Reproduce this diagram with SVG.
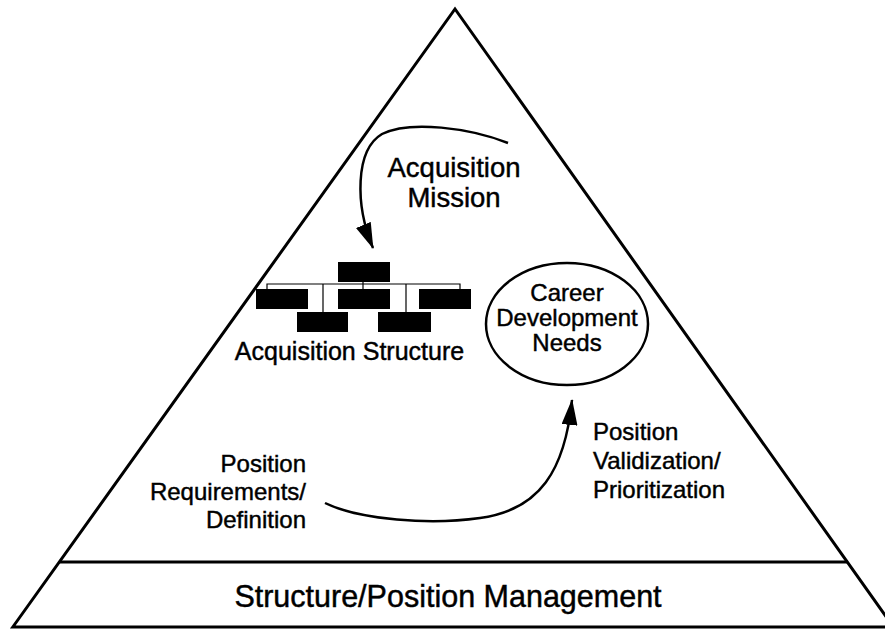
<svg xmlns="http://www.w3.org/2000/svg" width="885" height="629" viewBox="0 0 885 629">
  <style>
    text { font-family: "Liberation Sans", Arial, Helvetica, sans-serif; fill: #000; stroke: #000; stroke-width: 0.45; }
    .outline { fill: none; stroke: #000; stroke-width: 3; stroke-linejoin: miter; }
    .conn { fill: none; stroke: #000; stroke-width: 2.5; }
    .box { fill: #000; stroke: none; }
    .thin { fill: none; stroke: #000; stroke-width: 1.2; }
    .ell { fill: none; stroke: #000; stroke-width: 2.5; }
  </style>
  <defs>
    <marker id="arrow" markerUnits="userSpaceOnUse" viewBox="0 0 26 16" refX="25" refY="8" markerWidth="26" markerHeight="16" orient="auto">
      <path d="M0,0 L26,8 L0,16 Z" fill="#000"/>
    </marker>
  </defs>
  <rect x="0" y="0" width="885" height="629" fill="#fff"/>

  <g id="pyramid">
    <path class="outline" d="M12.8,627 L455,9 L893.4,627 Z"/>
    <line class="outline" x1="59.3" y1="562" x2="847.3" y2="562"/>
  </g>

  <g id="base-label">
    <text x="448" y="607" font-size="30.5" text-anchor="middle">Structure/Position Management</text>
  </g>

  <g id="acquisition-mission">
    <text x="454" y="177" font-size="27.5" text-anchor="middle">Acquisition</text>
    <text x="454" y="207" font-size="27.5" text-anchor="middle">Mission</text>
  </g>

  <g id="acquisition-structure">
    <rect class="box" x="338" y="262" width="52" height="20"/>
    <line class="thin" x1="363" y1="282" x2="363" y2="289"/>
    <polyline class="thin" points="267,289 267,284 460,284 460,289"/>
    <line class="thin" x1="323" y1="284" x2="323" y2="312"/>
    <line class="thin" x1="406" y1="284" x2="406" y2="312"/>
    <rect class="box" x="256" y="289" width="52" height="20"/>
    <rect class="box" x="338" y="289" width="52" height="20"/>
    <rect class="box" x="419" y="289" width="52" height="20"/>
    <rect class="box" x="297" y="312" width="51" height="20"/>
    <rect class="box" x="378" y="312" width="53" height="20"/>
    <text x="349.5" y="360" font-size="25" text-anchor="middle">Acquisition Structure</text>
  </g>

  <g id="career-development-needs">
    <ellipse class="ell" cx="567" cy="324" rx="81" ry="61"/>
    <text x="567" y="301" font-size="24" text-anchor="middle">Career</text>
    <text x="567" y="326" font-size="24" text-anchor="middle">Development</text>
    <text x="567" y="351" font-size="24" text-anchor="middle">Needs</text>
  </g>

  <g id="position-requirements">
    <text x="306" y="472" font-size="24" text-anchor="end">Position</text>
    <text x="306" y="500" font-size="24" text-anchor="end">Requirements/</text>
    <text x="306" y="528" font-size="24" text-anchor="end">Definition</text>
  </g>

  <g id="position-validization">
    <text x="593" y="440" font-size="24">Position</text>
    <text x="593" y="469" font-size="24">Validization/</text>
    <text x="593" y="498" font-size="24">Prioritization</text>
  </g>

  <g id="connectors">
    <path class="conn" d="M508,143 C470,128 410,120 382,134 C355,150 355,205 373,248" marker-end="url(#arrow)"/>
    <path class="conn" d="M325,503 C360,520 430,525 480,518 C540,510 565,470 572,400" marker-end="url(#arrow)"/>
  </g>
</svg>
